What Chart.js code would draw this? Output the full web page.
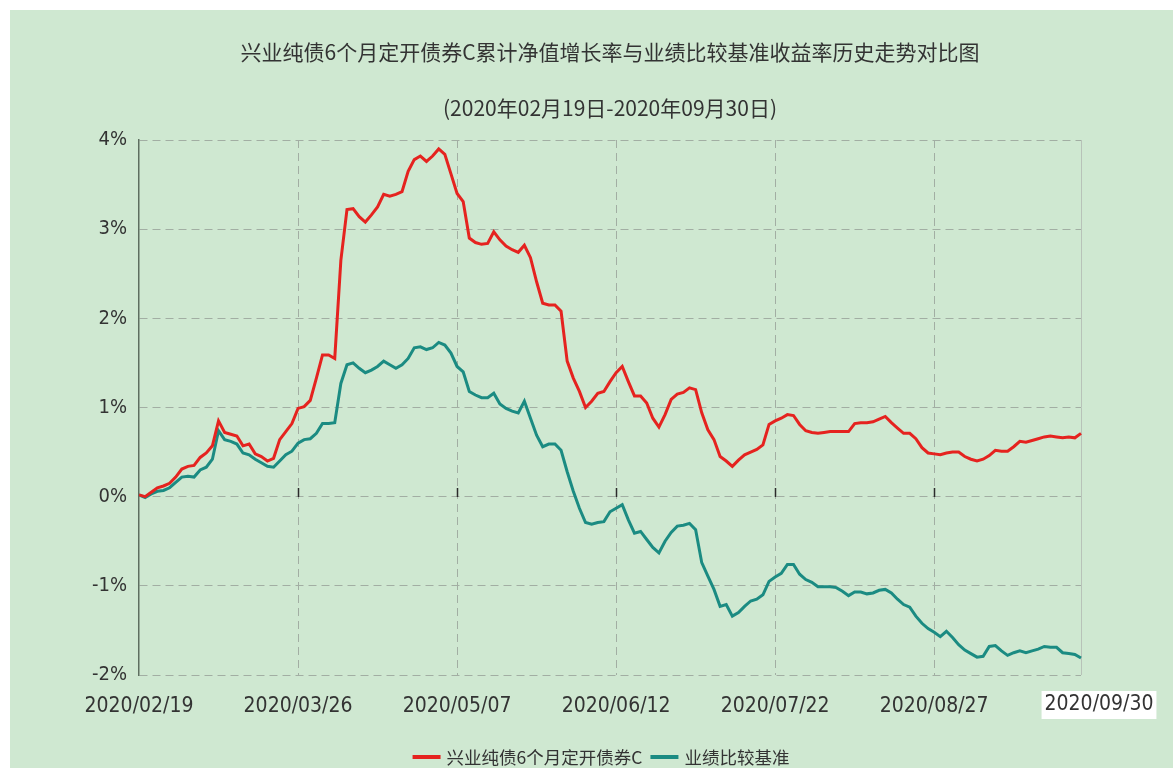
<!DOCTYPE html>
<html><head><meta charset="utf-8">
<script src="https://cdn.jsdelivr.net/npm/chart.js@4.4.1/dist/chart.umd.min.js"></script>
<style>html,body{margin:0;padding:0;background:#fff;overflow:hidden}#wrap{width:1173px;height:768px;position:relative}</style>
</head><body><div id="wrap"><canvas id="c" width="1173" height="768"></canvas></div>
<script>
const categories = [
"2020/02/19","2020/02/20","2020/02/21","2020/02/24","2020/02/25","2020/02/26","2020/02/27","2020/02/28",
"2020/03/02","2020/03/03","2020/03/04","2020/03/05","2020/03/06","2020/03/09","2020/03/10","2020/03/11","2020/03/12","2020/03/13","2020/03/16","2020/03/17","2020/03/18","2020/03/19","2020/03/20","2020/03/23","2020/03/24","2020/03/25","2020/03/26","2020/03/27","2020/03/30","2020/03/31",
"2020/04/01","2020/04/02","2020/04/03","2020/04/07","2020/04/08","2020/04/09","2020/04/10","2020/04/13","2020/04/14","2020/04/15","2020/04/16","2020/04/17","2020/04/20","2020/04/21","2020/04/22","2020/04/23","2020/04/24","2020/04/27","2020/04/28","2020/04/29","2020/04/30",
"2020/05/06","2020/05/07","2020/05/08","2020/05/11","2020/05/12","2020/05/13","2020/05/14","2020/05/15","2020/05/18","2020/05/19","2020/05/20","2020/05/21","2020/05/22","2020/05/25","2020/05/26","2020/05/27","2020/05/28","2020/05/29",
"2020/06/01","2020/06/02","2020/06/03","2020/06/04","2020/06/05","2020/06/08","2020/06/09","2020/06/10","2020/06/11","2020/06/12","2020/06/15","2020/06/16","2020/06/17","2020/06/18","2020/06/19","2020/06/22","2020/06/23","2020/06/24","2020/06/29","2020/06/30",
"2020/07/01","2020/07/02","2020/07/03","2020/07/06","2020/07/07","2020/07/08","2020/07/09","2020/07/10","2020/07/13","2020/07/14","2020/07/15","2020/07/16","2020/07/17","2020/07/20","2020/07/21","2020/07/22","2020/07/23","2020/07/24","2020/07/27","2020/07/28","2020/07/29","2020/07/30","2020/07/31",
"2020/08/03","2020/08/04","2020/08/05","2020/08/06","2020/08/07","2020/08/10","2020/08/11","2020/08/12","2020/08/13","2020/08/14","2020/08/17","2020/08/18","2020/08/19","2020/08/20","2020/08/21","2020/08/24","2020/08/25","2020/08/26","2020/08/27","2020/08/28","2020/08/31",
"2020/09/01","2020/09/02","2020/09/03","2020/09/04","2020/09/07","2020/09/08","2020/09/09","2020/09/10","2020/09/11","2020/09/14","2020/09/15","2020/09/16","2020/09/17","2020/09/18","2020/09/21","2020/09/22","2020/09/23","2020/09/24","2020/09/25","2020/09/28","2020/09/29","2020/09/30"
];
const tickLabels = ["2020/02/19","2020/03/26","2020/05/07","2020/06/12","2020/07/22","2020/08/27","2020/09/30"];
const yTickValues = [-2,-1,0,1,2,3,4];
const seriesNames = ["兴业纯债6个月定开债券C","业绩比较基准"];
const titleText = "兴业纯债6个月定开债券C累计净值增长率与业绩比较基准收益率历史走势对比图";
const subtitleText = "(2020年02月19日-2020年09月30日)";
const fundValues = [
0.02,0.00,0.05,0.10,0.12,0.15,0.22,0.31,0.34,0.35,0.44,0.49,0.57,0.85,0.72,0.70,0.68,0.57,0.59,0.48,0.45,0.40,0.43,0.64,0.73,0.82,
0.99,1.01,1.08,1.33,1.59,1.59,1.55,2.65,3.22,3.23,3.14,3.08,3.16,3.25,3.39,3.37,3.39,3.42,3.65,3.78,3.82,3.76,3.82,3.90,3.84,3.62,
3.40,3.31,2.90,2.85,2.83,2.84,2.97,2.88,2.81,2.77,2.74,2.82,2.68,2.41,2.17,2.15,2.15,2.08,1.52,1.33,1.18,1.00,1.07,1.16,1.18,1.29,
1.39,1.46,1.29,1.13,1.13,1.05,0.88,0.78,0.92,1.09,1.15,1.17,1.22,1.20,0.94,0.75,0.64,0.45,0.40,0.34,0.41,0.47,0.50,0.53,0.58,0.81,
0.85,0.88,0.92,0.91,0.81,0.74,0.72,0.71,0.72,0.73,0.73,0.73,0.73,0.82,0.83,0.83,0.84,0.87,0.90,0.83,0.77,0.71,0.71,0.65,0.55,0.49,
0.48,0.47,0.49,0.50,0.50,0.45,0.42,0.40,0.42,0.46,0.52,0.51,0.51,0.56,0.62,0.61,0.63,0.65,0.67,0.68,0.67,0.66,0.67,0.66,0.71
];
const benchmarkValues = [
0.02,-0.01,0.03,0.06,0.07,0.10,0.16,0.22,0.23,0.22,0.30,0.33,0.42,0.74,0.64,0.62,0.59,0.49,0.47,0.42,0.38,0.34,0.33,0.40,0.47,0.51,
0.60,0.64,0.65,0.71,0.82,0.82,0.83,1.27,1.48,1.50,1.44,1.39,1.42,1.46,1.52,1.48,1.44,1.48,1.55,1.67,1.68,1.65,1.67,1.73,1.70,1.61,
1.46,1.40,1.18,1.14,1.11,1.11,1.16,1.04,0.99,0.96,0.94,1.07,0.88,0.69,0.56,0.59,0.59,0.52,0.28,0.06,-0.13,-0.29,-0.31,-0.29,-0.28,-0.17,
-0.13,-0.09,-0.26,-0.41,-0.39,-0.48,-0.57,-0.63,-0.50,-0.40,-0.33,-0.32,-0.30,-0.37,-0.74,-0.89,-1.04,-1.23,-1.21,-1.34,-1.30,-1.23,-1.17,-1.15,-1.10,-0.95,
-0.90,-0.86,-0.76,-0.76,-0.87,-0.93,-0.96,-1.01,-1.01,-1.01,-1.02,-1.06,-1.11,-1.07,-1.07,-1.09,-1.08,-1.05,-1.04,-1.08,-1.15,-1.21,-1.24,-1.34,-1.42,-1.48,
-1.52,-1.57,-1.51,-1.58,-1.66,-1.72,-1.76,-1.80,-1.79,-1.68,-1.67,-1.73,-1.78,-1.75,-1.73,-1.75,-1.73,-1.71,-1.68,-1.69,-1.69,-1.75,-1.76,-1.77,-1.81
];

const RED = '#e5231f', TEAL = '#1b8b82', TEXT = '#333333', GRID = '#a2aea3', BG = '#cfe8d1';
const NARROW = '"Liberation Sans Narrow","DejaVu Sans Condensed","Liberation Sans",sans-serif';
const CJK = '"Noto Sans CJK SC","Noto Sans",sans-serif';
const lastLabel = tickLabels[tickLabels.length - 1];
const lastIndex = categories.indexOf(lastLabel);

const decor = {
  id: 'decor',
  beforeDraw(chart) {
    const ctx = chart.ctx;
    ctx.save();
    ctx.fillStyle = '#ffffff';
    ctx.fillRect(0, 0, chart.width, chart.height);
    ctx.fillStyle = BG;
    ctx.fillRect(10, 10, chart.width - 10, chart.height - 10);
    ctx.restore();
  },
  beforeDatasetsDraw(chart) {
    const ctx = chart.ctx, a = chart.chartArea;
    const xs = chart.scales.x, ys = chart.scales.y;
    ctx.save();
    ctx.strokeStyle = '#b7c2b8';
    ctx.lineWidth = 1;
    ctx.beginPath();
    ctx.moveTo(a.right + 0.5, a.top);
    ctx.lineTo(a.right + 0.5, a.bottom);
    ctx.stroke();
    const y0 = Math.round(ys.getPixelForValue(0));
    ctx.strokeStyle = '#2b2b2b';
    ctx.lineWidth = 1.5;
    tickLabels.forEach(l => {
      const i = categories.indexOf(l);
      if (i <= 0 || i >= lastIndex) return;
      const x = Math.round(xs.getPixelForValue(i)) + 0.5;
      ctx.beginPath();
      ctx.moveTo(x, y0 - 9);
      ctx.lineTo(x, y0);
      ctx.stroke();
    });
    ctx.restore();
  },
  afterDraw(chart) {
    const ctx = chart.ctx, a = chart.chartArea;
    const cx = (a.left + a.right) / 2;
    ctx.save();
    ctx.fillStyle = TEXT;
    ctx.textAlign = 'center';
    ctx.textBaseline = 'middle';
    ctx.font = '21px ' + CJK;
    ctx.fillText(titleText, cx, 52);
    ctx.fillText(subtitleText, cx, 108);

    const xs = chart.scales.x;
    const lx = xs.getPixelForValue(lastIndex) + 18;
    ctx.font = '21px ' + NARROW;
    const w = ctx.measureText(lastLabel).width;
    ctx.fillStyle = '#ffffff';
    ctx.fillRect(lx - w / 2 - 3, 691, w + 6, 28);
    ctx.fillStyle = TEXT;
    ctx.fillText(lastLabel, lx, 705);

    ctx.font = '17.5px ' + CJK;
    const colors = [RED, TEAL];
    const lineLen = 28, gap = 6, itemGap = 8;
    const widths = seriesNames.map(n => ctx.measureText(n).width);
    const total = widths.reduce((s, w2) => s + lineLen + gap + w2, 0) + itemGap;
    let x = 601 - total / 2;
    const ly = 757;
    ctx.textAlign = 'left';
    seriesNames.forEach((n, k) => {
      ctx.strokeStyle = colors[k];
      ctx.lineWidth = 4;
      ctx.beginPath();
      ctx.moveTo(x, ly);
      ctx.lineTo(x + lineLen, ly);
      ctx.stroke();
      ctx.fillStyle = TEXT;
      ctx.fillText(n, x + lineLen + gap, ly);
      x += lineLen + gap + widths[k] + itemGap;
    });
    ctx.restore();
  }
};

new Chart(document.getElementById('c'), {
  type: 'line',
  data: {
    labels: categories,
    datasets: [
      { label: seriesNames[0], data: fundValues, borderColor: RED, backgroundColor: RED, borderWidth: 3, pointRadius: 0, tension: 0, fill: false },
      { label: seriesNames[1], data: benchmarkValues, borderColor: TEAL, backgroundColor: TEAL, borderWidth: 3, pointRadius: 0, tension: 0, fill: false }
    ]
  },
  options: {
    responsive: false,
    animation: false,
    devicePixelRatio: 1,
    layout: { padding: { top: 140, right: 92, bottom: 0, left: 0 } },
    plugins: { legend: { display: false }, title: { display: false }, tooltip: { enabled: false } },
    scales: {
      x: {
        type: 'category',
        offset: false,
        afterBuildTicks(axis) {
          axis.ticks = axis.ticks.filter(t => tickLabels.includes(categories[t.value]));
        },
        afterFit(s) { s.height = 93; },
        grid: {
          drawTicks: false,
          lineWidth: 1,
          color: ctx => (ctx.tick && (ctx.tick.value === 0 || ctx.tick.value === lastIndex)) ? 'rgba(0,0,0,0)' : GRID
        },
        border: { display: false, dash: [8, 5] },
        ticks: {
          autoSkip: false, maxRotation: 0, minRotation: 0, padding: 19,
          color: TEXT, font: { family: NARROW, size: 21 },
          callback(v) { const l = categories[v]; return l === lastLabel ? '' : l; }
        }
      },
      y: {
        min: yTickValues[0],
        max: yTickValues[yTickValues.length - 1],
        afterFit(s) { s.width = 139; },
        afterBuildTicks(axis) { axis.ticks = yTickValues.map(v => ({ value: v })); },
        grid: { drawTicks: false, lineWidth: 1, color: GRID },
        border: { display: true, color: '#5e6e60', width: 1.5, dash: [8, 5] },
        ticks: {
          padding: 12, color: TEXT, font: { family: NARROW, size: 20 },
          callback(v) { return v + '%'; }
        }
      }
    }
  },
  plugins: [decor]
});
</script>
</body></html>
